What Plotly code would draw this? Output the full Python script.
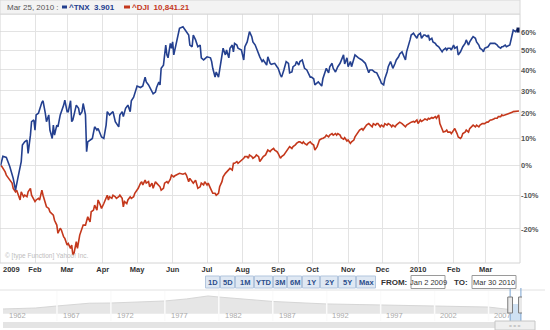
import math
import pandas as pd
import plotly.graph_objects as go

# ---------------- data ----------------
start_date = "2009-01-02"

tnx_days = [0,2,5,8,11,13,15,18,19,21,23,24,26,27,29,30,31,33,36,37,39,40,42,43,45,46,47,49,50,52,
            55,56,58,59,61,62,63,66,68,69,71,72,74,75,76,78,80,82,84,85,88,90,92,93,95,98,100,103,104,106,
            107,109,111,113,114,116,119,122,124,126,127,129,130,133,135,136,138,139,140,142,144,145,146,148,149,150,151,153,155,156,
            159,161,164,165,167,168,170,172,174,175,177,180,183,184,185,187,188,190,191,193,194,196,197,199,200,202,203,204,206,207,
            210,212,213,215,216,217,219,220,222,223,225,226,228,229,231,232,233,235,236,239,241,242,244,245,247,248,249,251,252,254,
            255,257,258,260,261,263,264,265,267,268,270,271,273,274,276,277,278,280,281,283,284,286,287,289,290,292,293,294,296,297,
            299,300,302,303,305,306,309,312,315,318,321,322,324,326,328,331,332,334,335,337,338,340,341,342,344,345,347,348,350,351,
            353,354,356,357,358,360,361,363,364,366,367,369,370,372,373,374,376,377,379,380,382,383,385,386,388,389,390,392,393,395,
            396,398,399,401,402,403,405,406,408,409,411,412,414,415,417,418,420,421,422,424,425,427,428,430,431,433,434,436,437,438,
            440,441,443,444,446,447,449,450,452]
tnx_pct = [0.0,3.3,2.9,-0.3,-4.4,-8.3,-4.4,1.4,7.5,8.7,9.4,4.4,11.3,16.7,17.4,13.3,19.5,20.2,24.9,25.6,20.2,16.7,19.5,13.3,10.0,15.3,11.3,15.3,14.6,19.5,
           23.7,25.9,20.9,20.9,25.6,16.7,17.4,23.7,22.3,19.5,20.9,24.4,19.5,5.0,8.7,9.4,10.0,14.6,13.3,13.9,10.6,10.0,15.3,20.9,19.5,20.9,16.7,14.6,19.5,20.9,
           18.8,22.3,23.7,20.9,25.6,27.2,32.3,31.6,32.3,36.5,34.2,32.8,31.6,28.7,29.5,31.6,34.2,32.8,40.8,42.4,52.8,47.6,46.1,53.7,51.1,54.5,47.6,53.5,59.3,62.1,
           63.0,61.1,58.3,52.8,51.9,58.3,55.6,51.9,52.8,46.1,45.0,46.6,46.1,44.2,40.8,36.5,39.0,36.5,40.0,46.1,51.1,47.6,50.2,46.1,51.1,52.8,49.2,53.7,52.8,51.1,
           50.2,45.0,51.9,54.5,57.4,60.2,57.4,54.5,52.8,51.1,47.6,46.6,44.2,45.0,43.3,42.4,46.6,43.3,42.8,43.3,41.6,40.8,37.5,36.5,40.0,42.4,44.2,43.3,38.6,39.0,
           41.6,42.4,44.2,42.4,44.2,45.0,43.3,40.8,40.0,38.6,36.5,36.5,35.7,32.8,33.6,34.2,33.6,32.3,35.7,40.0,40.8,38.6,41.6,43.3,40.8,39.0,40.8,41.6,43.3,45.0,
           47.6,43.0,46.1,41.6,44.2,41.6,47.6,46.1,45.0,43.3,38.6,40.0,40.0,39.0,38.6,35.1,33.6,32.8,35.7,39.0,41.6,44.2,42.4,40.8,43.3,45.0,46.6,48.1,49.2,47.6,
           45.0,49.2,52.8,55.6,58.3,59.3,58.3,56.5,58.3,59.3,56.5,58.3,58.3,57.4,58.3,55.6,56.5,54.5,53.7,52.8,51.9,51.1,49.2,50.2,51.1,50.2,51.1,51.1,50.2,52.8,
           51.1,51.9,47.6,49.2,51.1,51.9,53.7,55.6,52.8,54.5,56.5,57.4,56.5,54.5,52.8,51.1,50.2,49.2,51.1,51.9,51.9,53.7,53.7,53.7,53.7,52.8,51.9,51.1,51.9,51.9,
           52.8,51.9,52.8,52.8,58.3,61.1,60.2,61.1,61.1]

dji_days = [0,1,4,5,7,8,10,11,13,14,15,17,18,20,21,23,24,26,27,29,30,31,33,34,36,37,39,40,42,43,
            46,47,49,50,52,53,55,56,58,59,61,62,63,64,66,67,69,71,72,74,75,76,78,79,81,82,84,85,87,88,
            90,91,93,94,95,97,98,100,101,103,104,106,107,108,110,111,113,114,116,117,119,120,122,123,124,126,127,129,130,132,
            133,135,136,138,139,140,142,143,145,146,148,149,151,152,154,156,159,161,162,164,165,167,168,170,171,172,174,175,177,178,
            180,181,183,184,185,187,188,190,191,193,194,196,197,199,200,202,203,204,206,207,209,210,212,213,215,216,217,219,220,222,
            223,225,226,228,229,231,232,233,235,236,238,239,241,242,244,245,247,248,249,251,252,254,255,257,258,260,261,263,264,265,
            267,268,270,271,273,274,276,277,278,280,281,283,284,286,287,289,290,292,293,294,296,297,299,300,302,303,305,306,308,309,
            311,312,313,315,316,318,319,321,322,324,325,327,328,329,331,332,334,335,337,338,340,341,342,344,345,347,348,350,351,353,
            354,356,357,358,360,361,363,364,366,367,369,370,372,373,374,376,377,379,380,382,383,385,386,388,389,390,392,393,395,396,
            398,399,401,402,403,405,406,408,409,411,412,414,415,417,418,420,421,422,424,425,427,428,430,431,433,434,436,437,438,440,
            441,443,444,446,447,450,452]
dji_pct = [0.0,-0.3,-2.2,-3.3,-4.4,-5.0,-6.0,-7.7,-8.8,-8.3,-9.3,-11.4,-8.8,-10.4,-9.9,-10.4,-8.8,-7.7,-9.9,-11.4,-11.9,-11.4,-10.9,-11.4,-8.3,-9.9,-12.5,-13.5,-14.0,-15.0,
           -16.0,-17.5,-18.9,-21.2,-19.8,-20.3,-22.2,-22.6,-24.4,-24.0,-25.3,-24.4,-27.0,-26.6,-23.5,-25.3,-21.7,-19.8,-18.9,-18.9,-18.0,-16.5,-18.0,-15.0,-14.5,-13.0,-14.5,-11.4,-13.0,-14.0,
           -12.5,-11.4,-9.9,-11.4,-10.4,-10.9,-9.9,-10.4,-10.9,-10.4,-9.9,-10.9,-13.5,-11.9,-12.5,-11.4,-10.4,-10.9,-10.4,-9.3,-8.3,-7.7,-6.0,-5.5,-6.6,-5.0,-6.0,-5.5,-7.2,-6.0,
           -7.7,-5.5,-6.0,-6.6,-7.2,-8.3,-7.7,-6.0,-5.5,-6.0,-4.7,-3.3,-3.9,-3.5,-3.0,-2.7,-3.0,-2.7,-3.3,-5.5,-4.4,-5.5,-6.0,-5.0,-6.6,-7.7,-7.2,-6.0,-6.6,-5.5,
           -6.6,-6.0,-7.7,-8.3,-9.3,-9.3,-9.9,-9.3,-7.2,-5.5,-3.9,-2.7,-2.2,-1.6,-1.0,-1.6,0.8,0.8,1.4,0.8,1.4,2.0,2.6,3.2,3.2,2.6,3.8,3.2,2.6,3.2,
           3.8,3.2,1.4,2.6,3.2,3.8,5.0,5.6,5.0,5.6,6.2,5.6,5.0,4.4,2.6,3.2,3.8,4.4,5.0,6.2,6.9,6.2,6.9,7.5,8.1,8.7,8.7,8.1,8.7,8.1,
           7.5,8.1,8.7,8.1,7.5,5.6,6.9,8.1,9.4,10.0,10.0,10.6,11.3,10.6,11.3,11.9,11.3,11.9,11.3,11.9,11.3,10.3,9.7,10.3,9.0,9.4,8.1,8.7,9.4,10.6,
           11.9,12.5,13.3,13.9,13.3,14.6,15.3,15.9,15.3,14.6,15.9,15.3,15.9,15.9,14.6,15.3,14.6,15.9,15.3,15.9,15.3,14.6,15.3,14.6,15.3,15.9,16.5,15.9,15.3,14.6,
           15.3,15.9,16.5,16.5,16.8,16.5,17.4,15.9,17.4,16.8,17.4,17.8,17.4,18.1,17.8,18.4,18.1,18.8,18.1,19.5,15.9,13.3,12.5,12.8,13.3,12.5,12.5,11.9,13.3,13.9,
           11.9,10.6,10.0,10.6,11.9,12.5,13.3,12.5,13.9,14.6,15.3,14.6,15.3,14.6,15.3,15.9,15.9,15.9,16.5,16.5,17.4,17.4,17.8,18.1,18.1,18.8,18.8,19.5,19.2,19.5,
           19.8,20.2,20.2,20.6,20.9,21.2,21.2]

y_ticks_pct = [-20, -10, 0, 10, 20, 30, 40, 50, 60]
month_ticks = ["2009-02-01","2009-03-01","2009-04-01","2009-05-01","2009-06-01","2009-07-01","2009-08-01",
               "2009-09-01","2009-10-01","2009-11-01","2009-12-01","2010-01-01","2010-02-01","2010-03-01"]
month_labels = ["Feb","Mar","Apr","May","Jun","Jul","Aug","Sep","Oct","Nov","Dec","2010","Feb","Mar"]

nav_years = [1962, 1965, 1967, 1970, 1972, 1975, 1977, 1979, 1981, 1982, 1984, 1985, 1987, 1990,
             1992, 1995, 1997, 2000, 2002, 2005, 2007, 2009, 2010]
nav_level = [4.1, 4.9, 6.6, 8.9, 9.1, 9.9, 10.8, 12.5, 15.0, 14.1, 12.5, 12.0, 10.4, 9.1,
             8.3, 7.8, 7.4, 7.4, 6.6, 6.2, 5.7, 3.6, 4.0]
nav_label_years = [1962, 1967, 1972, 1977, 1982, 1987, 1992, 1997, 2002, 2007]

range_buttons = ["1D", "5D", "1M", "YTD", "3M", "6M", "1Y", "2Y", "5Y", "Max"]

legend_date = "Mar 25, 2010 :"
tnx_name, tnx_last = "^TNX", "3.901"
dji_name, dji_last = "^DJI", "10,841.21"

# ---------------- styling ----------------
W, H = 550, 330
def px(x): return x / W
def py(y): return 1 - y / H

BLUE = "#24408f"
RED = "#c4381c"
FONT = "Liberation Sans"

base = pd.Timestamp(start_date)
tnx_x = base + pd.to_timedelta(tnx_days, unit="D")
dji_x = base + pd.to_timedelta(dji_days, unit="D")
tnx_y = [1 + v / 100 for v in tnx_pct]
dji_y = [1 + v / 100 for v in dji_pct]

fig = go.Figure()
fig.add_trace(go.Scatter(x=dji_x, y=dji_y, mode="lines", line=dict(color=RED, width=1.6),
                         name=dji_name, hoverinfo="skip"))
fig.add_trace(go.Scatter(x=tnx_x, y=tnx_y, mode="lines", line=dict(color=BLUE, width=1.6),
                         name=tnx_name, hoverinfo="skip"))
fig.add_trace(go.Scatter(x=[tnx_x[-1]], y=[tnx_y[-1]], mode="markers",
                         marker=dict(symbol="square", size=5, color="#0c1c55"), hoverinfo="skip"))

# navigator
fig.add_trace(go.Scatter(x=nav_years, y=nav_level, mode="lines", fill="tozeroy",
                         line=dict(color="#d6d6d6", width=1), fillcolor="#e6e6e6",
                         xaxis="x2", yaxis="y2", hoverinfo="skip"))

fig.update_layout(
    width=W, height=H, margin=dict(l=0, r=0, t=0, b=0),
    paper_bgcolor="white", plot_bgcolor="white", showlegend=False,
    font=dict(family=FONT, size=8, color="#333"),
    xaxis=dict(domain=[0, px(520)], range=["2009-01-01 11:30", "2010-03-30 21:00"],
               tickvals=month_ticks, ticktext=month_labels, showgrid=True, gridcolor="#e3e3e3",
               gridwidth=1, zeroline=False, showline=False, ticks="",
               tickfont=dict(family=FONT, size=7.5, color="#333", weight="bold")),
    yaxis=dict(domain=[py(263), py(14)], type="log", range=[-0.1489, 0.2316], side="right",
               tickvals=[1 + v / 100 for v in y_ticks_pct], ticktext=[f"{v}%" for v in y_ticks_pct],
               showgrid=True, gridcolor="#e3e3e3", zeroline=False, showline=False, ticks="",
               tickfont=dict(family=FONT, size=7.5, color="#555", weight="bold")),
    xaxis2=dict(domain=[px(3), px(522)], range=[1962, 2010.1], anchor="y2", showgrid=False,
                showticklabels=False, zeroline=False, showline=False, ticks=""),
    yaxis2=dict(domain=[py(321), py(290)], range=[-6, 20], anchor="x2", showgrid=False,
                showticklabels=False, zeroline=False, showline=False, ticks=""),
)

shapes = []
ann = []

# plot frame
shapes.append(dict(type="rect", xref="paper", yref="paper", x0=px(0), x1=px(520), y0=py(263), y1=py(14),
                   line=dict(color="#d4d4d4", width=1), layer="above"))
# top legend bar
shapes.append(dict(type="rect", xref="paper", yref="paper", x0=px(0), x1=px(520), y0=py(14), y1=py(0),
                   fillcolor="#f3f3f3", line=dict(color="#d8d8d8", width=1), layer="above"))
ann.append(dict(xref="paper", yref="paper", x=px(5), y=py(7), xanchor="left", yanchor="middle",
                text=legend_date, showarrow=False, font=dict(family=FONT, size=8, color="#555")))
shapes.append(dict(type="rect", xref="paper", yref="paper", x0=px(62), x1=px(67), y0=py(8.5), y1=py(5.5),
                   fillcolor=BLUE, line=dict(width=0), layer="above"))
ann.append(dict(xref="paper", yref="paper", x=px(67), y=py(7), xanchor="left", yanchor="middle",
                text=f"<b>{tnx_name}  {tnx_last}</b>", showarrow=False, font=dict(family=FONT, size=8, color=BLUE)))
shapes.append(dict(type="rect", xref="paper", yref="paper", x0=px(124), x1=px(130), y0=py(8.5), y1=py(5.5),
                   fillcolor=RED, line=dict(width=0), layer="above"))
ann.append(dict(xref="paper", yref="paper", x=px(130), y=py(7), xanchor="left", yanchor="middle",
                text=f"<b>{dji_name}  {dji_last}</b>", showarrow=False, font=dict(family=FONT, size=8, color=RED)))

# first x label
ann.append(dict(xref="x", yref="paper", x=start_date, y=py(269), xanchor="left", yanchor="middle",
                text="<b>2009</b>", showarrow=False, font=dict(family=FONT, size=7.5, color="#333")))
# watermark
ann.append(dict(xref="paper", yref="paper", x=px(3), y=py(256), xanchor="left", yanchor="middle",
                text="© [type Function] Yahoo! Inc.", showarrow=False, font=dict(family=FONT, size=6.5, color="#bdbdbd")))

# range buttons
btn_edges = [205, 220, 235, 254, 273, 287, 302, 320, 338, 356, 376]
for i, lab in enumerate(range_buttons):
    x0, x1 = btn_edges[i] + 0.5, btn_edges[i + 1] - 0.5
    shapes.append(dict(type="rect", xref="paper", yref="paper", x0=px(x0), x1=px(x1), y0=py(288), y1=py(276),
                       fillcolor="#dfe8f3", line=dict(color="#b3c6de", width=1)))
    ann.append(dict(xref="paper", yref="paper", x=px((x0 + x1) / 2), y=py(282), xanchor="center", yanchor="middle",
                    text=f"<b>{lab}</b>", showarrow=False, font=dict(family=FONT, size=7.5, color="#2d4f8c")))

# from / to
ann.append(dict(xref="paper", yref="paper", x=px(409), y=py(282), xanchor="right", yanchor="middle",
                text="<b>FROM:</b>", showarrow=False, font=dict(family=FONT, size=8, color="#333")))
shapes.append(dict(type="rect", xref="paper", yref="paper", x0=px(411), x1=px(445), y0=py(288.5), y1=py(275.5),
                   fillcolor="white", line=dict(color="#9a9a9a", width=1)))
ann.append(dict(xref="paper", yref="paper", x=px(428), y=py(282), xanchor="center", yanchor="middle",
                text="Jan 2 2009", showarrow=False, font=dict(family=FONT, size=7.5, color="#333")))
ann.append(dict(xref="paper", yref="paper", x=px(470), y=py(282), xanchor="right", yanchor="middle",
                text="<b>TO:</b>", showarrow=False, font=dict(family=FONT, size=8, color="#333")))
shapes.append(dict(type="rect", xref="paper", yref="paper", x0=px(472), x1=px(516), y0=py(288.5), y1=py(275.5),
                   fillcolor="white", line=dict(color="#9a9a9a", width=1)))
ann.append(dict(xref="paper", yref="paper", x=px(494), y=py(282), xanchor="center", yanchor="middle",
                text="Mar 30 2010", showarrow=False, font=dict(family=FONT, size=7.5, color="#333")))

# navigator decorations
shapes.append(dict(type="line", xref="paper", yref="paper", x0=px(0), x1=px(545), y0=py(290), y1=py(290),
                   line=dict(color="#e2e2e2", width=1)))
for yr in nav_label_years:
    if yr > 1962:
        shapes.append(dict(type="line", xref="x2", yref="paper", x0=yr, x1=yr, y0=py(321), y1=py(291),
                           line=dict(color="#fbfbfb", width=1.5), layer="above"))
    ann.append(dict(xref="x2", yref="paper", x=yr + 0.35, y=py(315.5), xanchor="left", yanchor="middle",
                    text=str(yr), showarrow=False, font=dict(family=FONT, size=7.5, color="#aaaaaa")))
# selection window
shapes.append(dict(type="rect", xref="x2", yref="paper", x0=2009.0, x1=2010.0, y0=py(321), y1=py(304),
                   fillcolor="#cfe1f3", line=dict(width=0), layer="above"))
for xv in (2009.0, 2010.0):
    shapes.append(dict(type="line", xref="x2", yref="paper", x0=xv, x1=xv, y0=py(321), y1=py(288),
                       line=dict(color="#7aa3cf", width=1), layer="above"))
    shapes.append(dict(type="rect", xref="x2", yref="paper", x0=xv - 0.22, x1=xv + 0.22, y0=py(313), y1=py(297),
                       fillcolor="#e9e9e9", line=dict(color="#7d7d7d", width=1), layer="above"))
# scrollbar
shapes.append(dict(type="rect", xref="paper", yref="paper", x0=px(3), x1=px(535), y0=py(328), y1=py(322),
                   fillcolor="#e4e4e4", line=dict(width=0)))
shapes.append(dict(type="rect", xref="paper", yref="paper", x0=px(495), x1=px(535), y0=py(330), y1=py(321),
                   fillcolor="#efefef", line=dict(color="#c6c6c6", width=1)))
ann.append(dict(xref="paper", yref="paper", x=px(515), y=py(325.5), xanchor="center", yanchor="middle",
                text="= = =", showarrow=False, font=dict(family=FONT, size=5, color="#aaaaaa")))

fig.update_layout(shapes=shapes, annotations=ann)
fig.write_html("out.html")
